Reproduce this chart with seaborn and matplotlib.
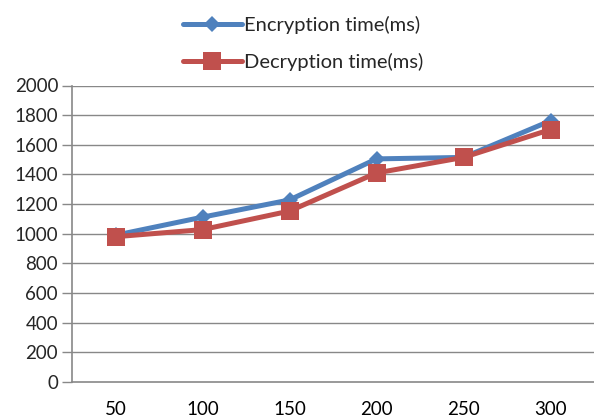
import matplotlib
matplotlib.use("Agg")
import matplotlib.pyplot as plt
import seaborn as sns
import pandas as pd
from matplotlib.ticker import FixedLocator

sizes = ["50", "100", "150", "200", "250", "300"]
encryption_ms = [990, 1112, 1228, 1505, 1515, 1762]
decryption_ms = [980, 1028, 1153, 1410, 1515, 1703]
y_ticks = [0, 200, 400, 600, 800, 1000, 1200, 1400, 1600, 1800, 2000]

enc_label = "Encryption time(ms)"
dec_label = "Decryption time(ms)"

df = pd.DataFrame({
    "size": sizes * 2,
    "time": encryption_ms + decryption_ms,
    "series": [enc_label] * len(sizes) + [dec_label] * len(sizes),
})

sns.set_style("white")
plt.rcParams["font.family"] = ["Lato", "DejaVu Sans"]

fig = plt.figure(figsize=(5.94, 4.18), dpi=100)
ax = fig.add_axes([72 / 594, 1 - 382 / 418, 1 - 72 / 594, (382 - 85.5) / 418])

grid_col = "#888888"
ax.set_axisbelow(True)
for v in y_ticks[1:]:
    ax.axhline(v, color=grid_col, lw=1.0, zorder=0)

palette = {enc_label: "#4F81BD", dec_label: "#C0504D"}
sns.lineplot(data=df, x="size", y="time", hue="series", style="series",
             markers={enc_label: "D", dec_label: "s"}, dashes=False,
             palette=palette, linewidth=3.6, markersize=8,
             markeredgewidth=0, sort=False, ax=ax, legend=True)
# bigger squares for the decryption series
for line in ax.get_lines():
    if line.get_color() == "#C0504D":
        line.set_markersize(12.5)

ax.set_xlim(-0.5, 5.5)
ax.set_ylim(0, 2000)
ax.set_yticks(y_ticks)
ax.set_yticklabels([str(v) for v in y_ticks])
ax.set_xticks(range(len(sizes)))
ax.set_xticklabels(sizes)
ax.xaxis.set_minor_locator(FixedLocator([i - 0.5 for i in range(len(sizes) + 1)]))
ax.tick_params(axis="x", which="major", length=0, pad=14, labelsize=13.5, colors="black")
ax.tick_params(axis="x", which="minor", length=6, width=1, color=grid_col, direction="out")
ax.tick_params(axis="y", length=7, width=1, color=grid_col, direction="out",
               pad=3, labelsize=13.5, left=True)
ax.set_xlabel("")
ax.set_ylabel("")
for s in ["top", "right"]:
    ax.spines[s].set_visible(False)
for s in ["left", "bottom"]:
    ax.spines[s].set_color(grid_col)
    ax.spines[s].set_linewidth(1.2)

handles, labels = ax.get_legend_handles_labels()
for h in handles:
    if h.get_color() == "#C0504D":
        h.set_markersize(12.5)
ax.get_legend().remove()
fig.legend(handles, labels, loc="upper center", bbox_to_anchor=(0.51, 1.005),
           ncol=1, frameon=False, fontsize=14.5, handlelength=2.9,
           handletextpad=0.1, labelspacing=0.95)

fig.savefig("out.png", dpi=100)
